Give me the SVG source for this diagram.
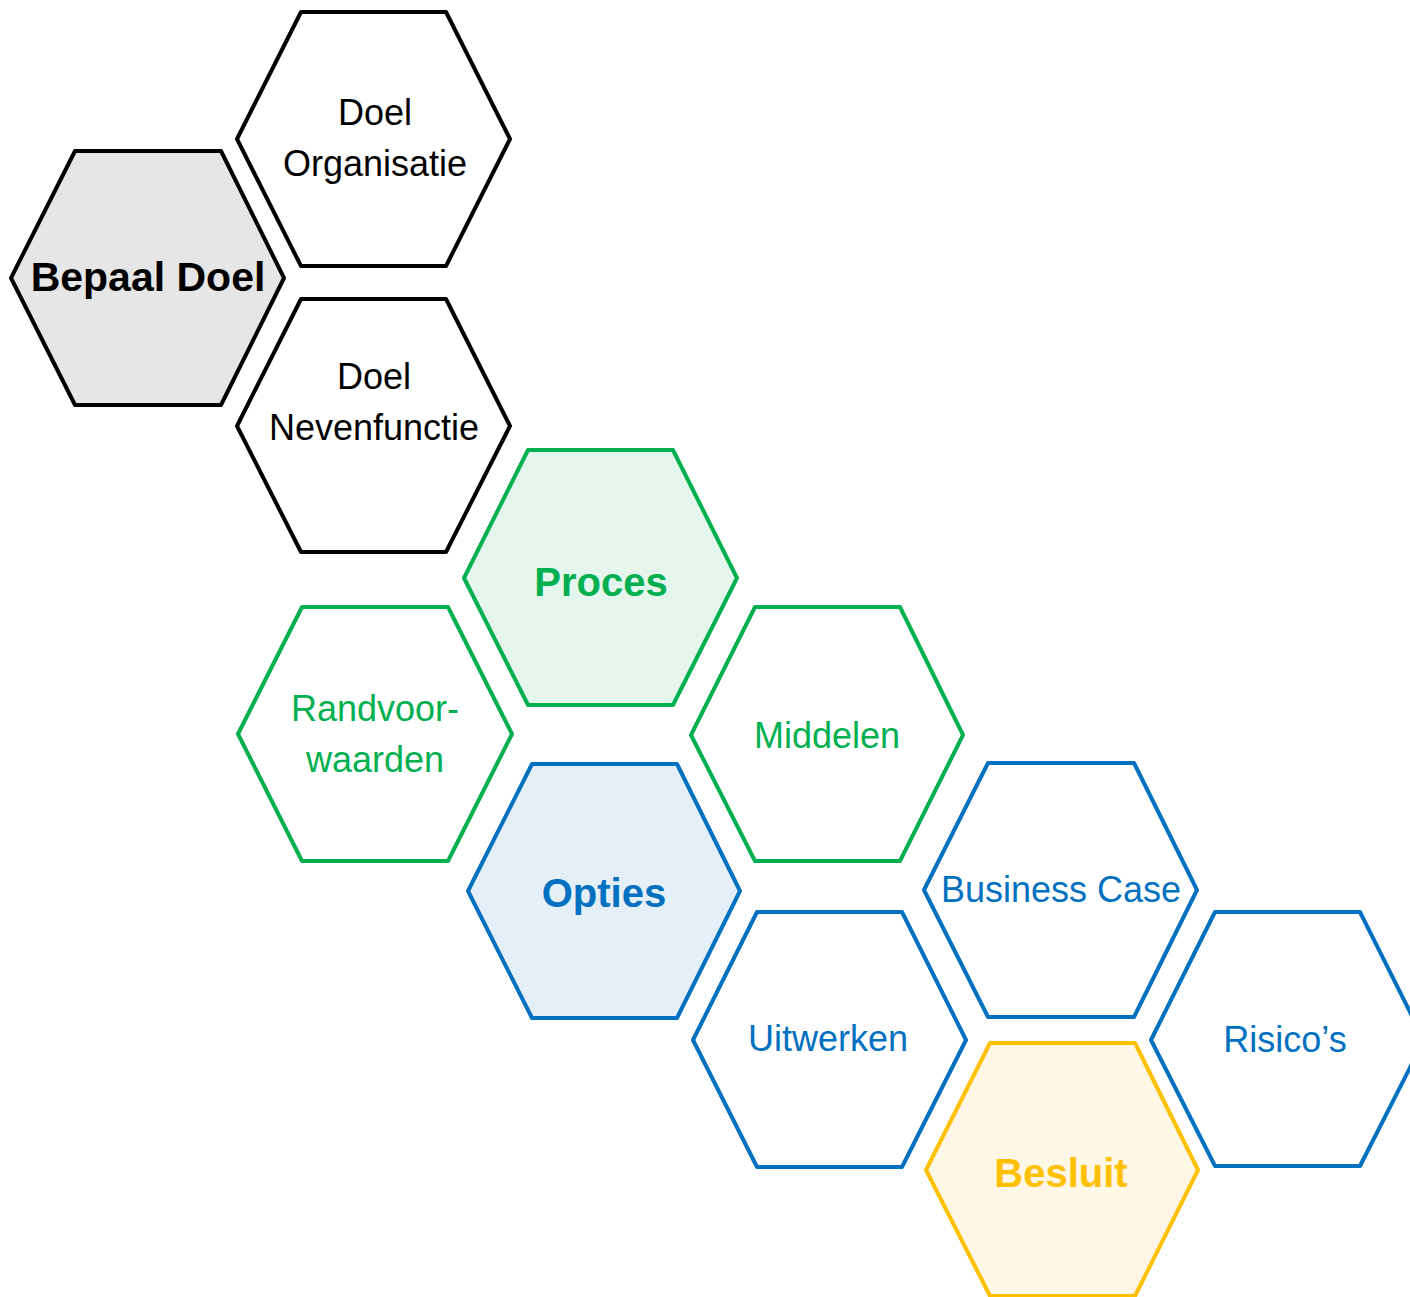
<svg xmlns="http://www.w3.org/2000/svg" width="1410" height="1297" viewBox="0 0 1410 1297">
<style>
.h{stroke-width:4;stroke-linejoin:round;fill:#fff}
.k{stroke:#000}.g{stroke:#00b050}.b{stroke:#0070c0}.y{stroke:#ffc000}
text{font-family:"Liberation Sans",Arial,sans-serif;font-size:36px;text-anchor:middle}
.tk{fill:#000}.tg{fill:#00b050}.tb{fill:#0070c0}.ty{fill:#ffc000}
.bold{font-weight:bold;font-size:40px}
</style>
<rect width="1410" height="1297" fill="#fff"/>
<g id="bepaal-doel"><polygon class="h k" style="fill:#e6e6e6" points="11,278 75,151 221,151 284,278 221,405 75,405"/><text class="tk bold" x="148" y="291" style="font-size:41px">Bepaal Doel</text></g>
<g id="doel-organisatie"><polygon class="h k" points="237,139 301,12 446,12 510,139 446,266 301,266"/><text class="tk" x="375" y="125">Doel</text><text class="tk" x="375" y="176">Organisatie</text></g>
<g id="doel-nevenfunctie"><polygon class="h k" points="237,426 301,299 446,299 510,426 446,552 301,552"/><text class="tk" x="374" y="389">Doel</text><text class="tk" x="374" y="440">Nevenfunctie</text></g>
<g id="proces"><polygon class="h g" style="fill:#e5f6ec" points="464,578 528,450 673,450 737,578 673,705 528,705"/><text class="tg bold" x="601" y="596">Proces</text></g>
<g id="randvoorwaarden"><polygon class="h g" points="238,734 302,607 448,607 512,734 448,861 302,861"/><text class="tg" x="375" y="721">Randvoor-</text><text class="tg" x="375" y="772">waarden</text></g>
<g id="middelen"><polygon class="h g" points="691,735 755,607 900,607 963,735 900,861 755,861"/><text class="tg" x="827" y="748">Middelen</text></g>
<g id="opties"><polygon class="h b" style="fill:#e5eff8" points="468,891 532,764 677,764 740,891 677,1018 532,1018"/><text class="tb bold" x="604" y="907">Opties</text></g>
<g id="business-case"><polygon class="h b" points="924,890 988,763 1134,763 1197,890 1134,1017 988,1017"/><text class="tb" x="1061" y="902">Business Case</text></g>
<g id="uitwerken"><polygon class="h b" points="693,1040 757,912 902,912 966,1040 902,1167 757,1167"/><text class="tb" x="828" y="1051">Uitwerken</text></g>
<g id="risicos"><polygon class="h b" points="1151,1040 1215,912 1360,912 1424,1040 1360,1166 1215,1166"/><text class="tb" x="1285" y="1052">Risico’s</text></g>
<g id="besluit"><polygon class="h y" style="fill:#fff7e6" points="926,1170 990,1043 1135,1043 1198,1170 1135,1296 990,1296"/><text class="ty bold" x="1061" y="1187">Besluit</text></g>
<g id="connectors"></g>
</svg>
